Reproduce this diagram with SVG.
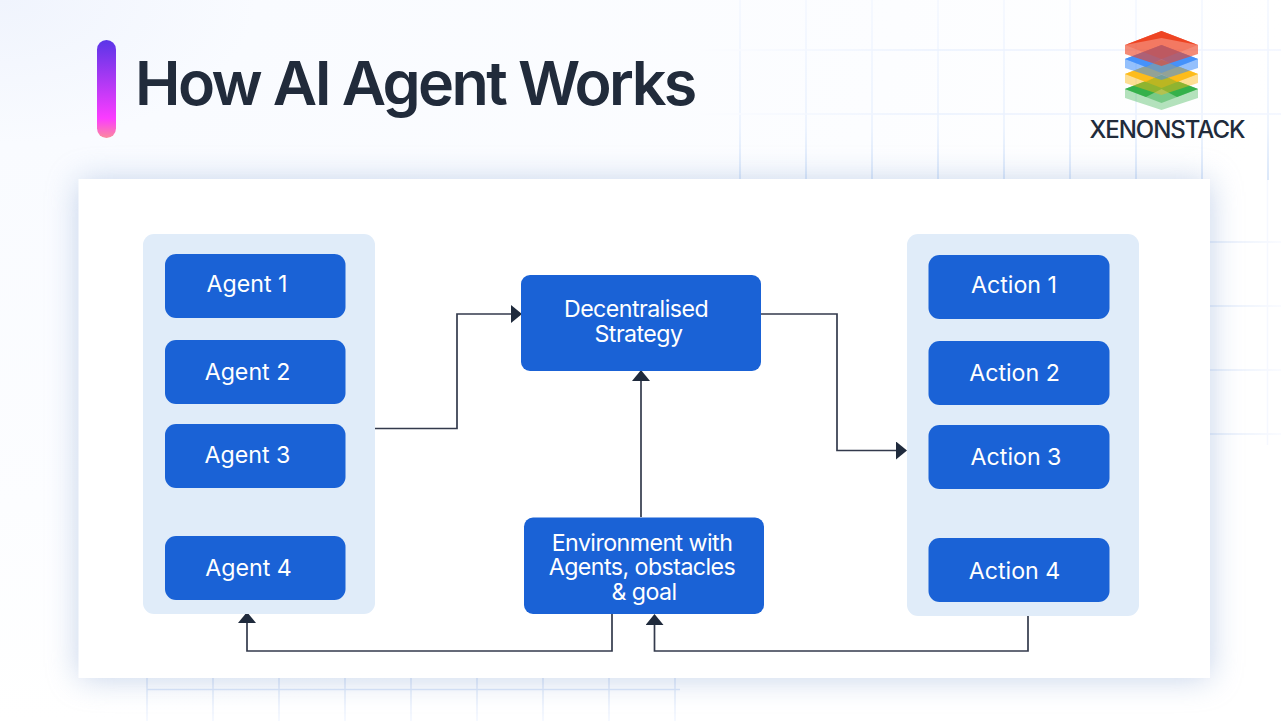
<svg xmlns="http://www.w3.org/2000/svg" width="1281" height="721" viewBox="0 0 1281 721">
<defs>
<linearGradient id="bar" x1="0" y1="0" x2="0" y2="1"><stop offset="0" stop-color="#5a35e8"/><stop offset="0.8" stop-color="#fb3cff"/><stop offset="1" stop-color="#fb8a9e"/></linearGradient>
<radialGradient id="tint" cx="0" cy="0" r="1"><stop offset="0" stop-color="#f0f4fd"/><stop offset="0.2" stop-color="#f9fbff"/><stop offset="0.7" stop-color="#fcfdff"/><stop offset="1" stop-color="#ffffff"/></radialGradient>
<linearGradient id="gTop" gradientUnits="userSpaceOnUse" x1="0" y1="0" x2="0" y2="180"><stop offset="0" stop-color="#f3f7ff"/><stop offset="0.7" stop-color="#e9f1fe"/><stop offset="1" stop-color="#cfe0f8"/></linearGradient>
<linearGradient id="gH" gradientUnits="userSpaceOnUse" x1="700" y1="0" x2="1281" y2="0"><stop offset="0" stop-color="#fbfcff"/><stop offset="0.4" stop-color="#eaf1fe"/><stop offset="1" stop-color="#f1f5ff"/></linearGradient>
<linearGradient id="gRight" gradientUnits="userSpaceOnUse" x1="1210" y1="0" x2="1281" y2="0"><stop offset="0" stop-color="#dfe9f9"/><stop offset="1" stop-color="#f8faff"/></linearGradient>
<linearGradient id="gBot" gradientUnits="userSpaceOnUse" x1="0" y1="678" x2="0" y2="721"><stop offset="0" stop-color="#d9e4f6"/><stop offset="1" stop-color="#f3f7ff"/></linearGradient>
<filter id="sh" x="-10%" y="-20%" width="120%" height="140%"><feGaussianBlur stdDeviation="16"/></filter>
<marker id="arr" viewBox="0 0 11 18" markerWidth="11" markerHeight="18" refX="0" refY="9" orient="auto" markerUnits="userSpaceOnUse"><path d="M0 0L11 9L0 18Z" fill="#1f2a3c"/></marker>
<path id="hex" d="M0 14L36.500 0L73 14V23L36.500 35L0 23Z"/>
<path id="top" d="M0 14L36.500 0L73 14L36.500 28Z"/>
<path id="chev" d="M0 14L36.500 0L73 14L36.500 7Z"/>
<path id="wing" d="M0 14L36.500 0L73 14L52 22L36.500 14L21 22Z"/>
</defs>
<style>
.lab{font-family:Inter,"Liberation Sans",sans-serif;font-size:23.200px;fill:#fff;text-anchor:middle}
.mid{letter-spacing:-0.55px}
.btn{fill:#1a62d6}
.pan{fill:#e0ecf9}
.con{fill:none;stroke:#333a4c;stroke-width:1.700}
</style>
<rect width="1281" height="721" fill="#fff"/>
<rect width="1281" height="721" fill="url(#tint)"/>
<g id="grid-top" fill="none" stroke="url(#gTop)" stroke-width="1.500">
<path d="M740 0V180M806 0V180M872 0V180M938 0V180M1004 0V180M1070 0V180M1136 0V180M1202 0V180M1268 0V180"/>
<path d="M700 50H1281M700 114H1281" stroke="url(#gH)"/>
</g>
<g id="grid-right" fill="none" stroke="url(#gRight)" stroke-width="1.500">
<path d="M1210 242H1281M1210 306H1281M1210 370H1281M1210 434H1281"/>
<path d="M1267.500 180V445" stroke="#f5f8ff"/>
</g>
<g id="grid-bottom" fill="none" stroke="url(#gBot)" stroke-width="1.500">
<path d="M147 678V721M213 678V721M279 678V721M345 678V721M411 678V721M477 678V721M543 678V721M609 678V721M675 678V721"/>
<path d="M147 689.500H680" stroke="#dbe6f8"/>
</g>
<rect x="79" y="181" width="1131" height="497" fill="#8aa6d4" opacity="0.5" filter="url(#sh)"/>
<rect x="78.500" y="179" width="1131.500" height="499" fill="#fff"/>
<g id="title">
<rect x="97" y="40" width="19" height="98" rx="9.500" fill="url(#bar)"/>
<text x="135" y="105" font-family="Inter,'Liberation Sans',sans-serif" font-size="61" font-weight="600" letter-spacing="-2.600" fill="#212b3b">How AI Agent Works</text>
</g>
<g id="logo">
<g transform="translate(1125 75)" fill="#2eae45"><use href="#hex" opacity="0.36"/><use href="#top" opacity="0.45"/><use href="#wing" opacity="0.9"/></g>
<g transform="translate(1125 60)" fill="#fdb90f"><use href="#hex" opacity="0.45"/><use href="#top" opacity="0.4"/><use href="#wing" opacity="0.85"/></g>
<g transform="translate(1125 45)" fill="#3d8dfa"><use href="#hex" opacity="0.55"/><use href="#top" opacity="0.4"/><use href="#wing" opacity="0.85"/></g>
<g transform="translate(1125 31)" fill="#ee4423"><use href="#hex" opacity="0.62"/><use href="#top" opacity="0.25"/><use href="#chev"/></g>
<text x="1167.500" y="138" font-family="Inter,'Liberation Sans',sans-serif" font-size="24" font-weight="500" fill="#212b3b" text-anchor="middle" textLength="156">XENONSTACK</text>
</g>
<g id="connectors">
<path class="con" d="M375 428.500H457V314H511" marker-end="url(#arr)"/>
<path class="con" d="M761 314H837V450.500H896" marker-end="url(#arr)"/>
<path class="con" d="M641 517V381" marker-end="url(#arr)"/>
<path class="con" d="M612 614V651H247V623" marker-end="url(#arr)"/>
<path class="con" d="M1028 616V651H654.500V625" marker-end="url(#arr)"/>
</g>
<g id="agents-panel"><rect class="pan" x="143" y="234" width="232" height="380" rx="11"/></g>
<g id="agent-1"><rect class="btn" x="165" y="254" width="180.500" height="64" rx="11"/><text class="lab" x="247" y="292">Agent 1</text></g>
<g id="agent-2"><rect class="btn" x="165" y="340" width="180.500" height="64" rx="11"/><text class="lab" x="247.500" y="380">Agent 2</text></g>
<g id="agent-3"><rect class="btn" x="165" y="424" width="180.500" height="64" rx="11"/><text class="lab" x="247.500" y="463">Agent 3</text></g>
<g id="agent-4"><rect class="btn" x="165" y="536" width="180.500" height="64" rx="11"/><text class="lab" x="248.500" y="576">Agent 4</text></g>
<g id="actions-panel"><rect class="pan" x="907" y="234" width="232" height="382" rx="11"/></g>
<g id="action-1"><rect class="btn" x="928.500" y="255" width="181" height="64" rx="11"/><text class="lab" x="1014" y="293">Action 1</text></g>
<g id="action-2"><rect class="btn" x="928.500" y="341" width="181" height="64" rx="11"/><text class="lab" x="1014.500" y="381">Action 2</text></g>
<g id="action-3"><rect class="btn" x="928.500" y="425" width="181" height="64" rx="11"/><text class="lab" x="1016" y="465">Action 3</text></g>
<g id="action-4"><rect class="btn" x="928.500" y="538" width="181" height="64" rx="11"/><text class="lab" x="1014.500" y="579">Action 4</text></g>
<g id="strategy"><rect class="btn" x="521" y="275" width="240" height="96" rx="9"/><text class="lab mid" x="636" y="317">Decentralised</text><text class="lab mid" x="638.500" y="342">Strategy</text></g>
<g id="environment"><rect class="btn" x="524" y="517.500" width="240" height="96.500" rx="9"/><text class="lab mid" x="642" y="551">Environment with</text><text class="lab mid" x="642" y="575">Agents, obstacles</text><text class="lab mid" x="644" y="600">&amp; goal</text></g>
</svg>
